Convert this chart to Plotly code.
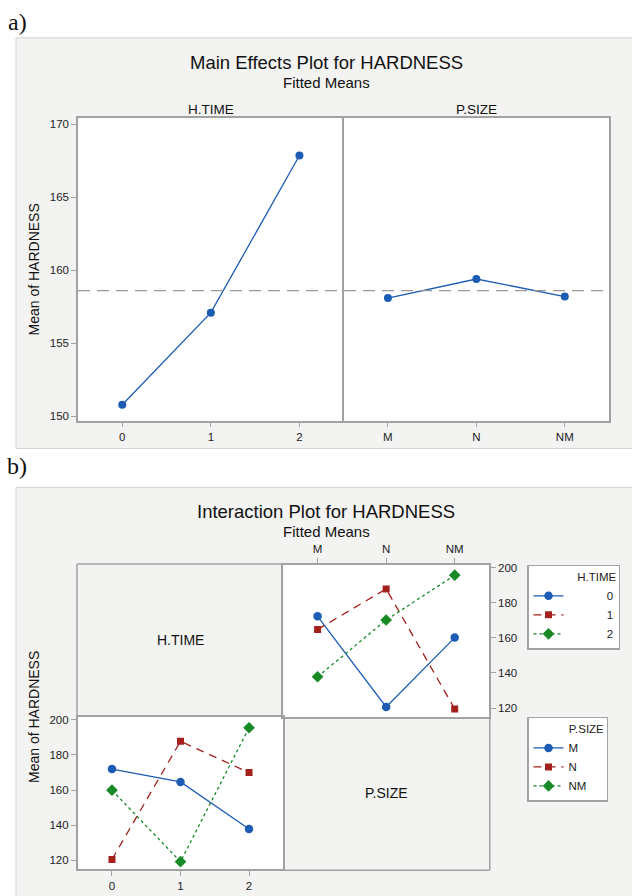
import plotly.graph_objects as go

# ---------------- data ----------------
HTIME_LEVELS = ["0", "1", "2"]
PSIZE_LEVELS = ["M", "N", "NM"]
LEVEL_POS = [0, 1, 2]

# Main effects (fitted means)
HTIME_MEANS = [150.8, 157.1, 167.85]
PSIZE_MEANS = [158.1, 159.4, 158.2]
GRAND_MEAN = 158.6

# Interaction: lines by H.TIME across P.SIZE (top-right cell)
HT0_BY_PSIZE = [172.2, 120.6, 160.1]
HT1_BY_PSIZE = [164.7, 187.8, 119.5]
HT2_BY_PSIZE = [137.8, 170.1, 195.6]

# Interaction: lines by P.SIZE across H.TIME (bottom-left cell)
PM_BY_HTIME = [171.9, 164.6, 137.9]
PN_BY_HTIME = [120.6, 187.7, 169.9]
PNM_BY_HTIME = [159.9, 119.3, 195.4]

MAIN_Y_TICKS = [150, 155, 160, 165, 170]
INT_Y_TICKS = [120, 140, 160, 180, 200]

# ---------------- layout helpers ----------------
W, H = 632, 896


def px(x):
    return x / W


def py(y):
    return 1 - y / H


FONT = "Liberation Sans, Arial, Helvetica, sans-serif"
AX = "#a2a2a2"
TXT = "#222222"
PANEL = "#f3f3f2"
BLUE = "#1d5cb4"
RED = "#a3201d"
GREEN = "#178a26"
NB = "\u00a0"

fig = go.Figure()

# ---- main effects traces ----
fig.add_trace(go.Scatter(x=LEVEL_POS, y=HTIME_MEANS, xaxis="x", yaxis="y",
                         mode="lines+markers", showlegend=False,
                         line=dict(color=BLUE, width=1.3),
                         marker=dict(color=BLUE, size=8, symbol="circle")))
fig.add_trace(go.Scatter(x=LEVEL_POS, y=PSIZE_MEANS, xaxis="x2", yaxis="y2",
                         mode="lines+markers", showlegend=False,
                         line=dict(color=BLUE, width=1.3),
                         marker=dict(color=BLUE, size=8, symbol="circle")))

# ---- interaction traces ----
styles = [
    (BLUE, "solid", "circle", 8.5),
    (RED, "8px,6px", "square", 7),
    (GREEN, "3px,3px", "diamond", 9),
]
for name, vals, (c, d, s, ms) in zip(HTIME_LEVELS,
                                     [HT0_BY_PSIZE, HT1_BY_PSIZE, HT2_BY_PSIZE],
                                     styles):
    fig.add_trace(go.Scatter(x=LEVEL_POS, y=vals, xaxis="x4", yaxis="y4",
                             name=NB * 12 + name, legend="legend",
                             mode="lines+markers",
                             line=dict(color=c, width=1.3, dash=d),
                             marker=dict(color=c, size=ms, symbol=s)))
for name, vals, (c, d, s, ms) in zip(PSIZE_LEVELS,
                                     [PM_BY_HTIME, PN_BY_HTIME, PNM_BY_HTIME],
                                     styles):
    fig.add_trace(go.Scatter(x=LEVEL_POS, y=vals, xaxis="x3", yaxis="y3",
                             name=name, legend="legend2",
                             mode="lines+markers",
                             line=dict(color=c, width=1.3, dash=d),
                             marker=dict(color=c, size=ms, symbol=s)))

axis_common = dict(showgrid=False, zeroline=False, showline=True, mirror=True,
                   linecolor=AX, linewidth=1.5, ticks="outside", ticklen=5,
                   tickwidth=1.2, tickcolor=AX,
                   tickfont=dict(family=FONT, size=11.5, color=TXT),
                   fixedrange=True)


def ax(**kw):
    d = dict(axis_common)
    d.update(kw)
    return d


legend_font = dict(family=FONT, size=11.5, color=TXT)

fig.update_layout(
    width=W, height=H,
    margin=dict(l=0, r=0, t=0, b=0),
    paper_bgcolor="white",
    plot_bgcolor="rgba(0,0,0,0)",
    font=dict(family=FONT, color=TXT),
    # main effects
    xaxis=ax(domain=[px(78), px(343.7)], anchor="y", range=[-0.5, 2.5],
             tickvals=LEVEL_POS, ticktext=HTIME_LEVELS),
    xaxis2=ax(domain=[px(343.7), px(609)], anchor="y2", range=[-0.5, 2.5],
              tickvals=LEVEL_POS, ticktext=PSIZE_LEVELS),
    yaxis=ax(domain=[py(420), py(116)], anchor="x", range=[149.71, 170.39],
             tickvals=MAIN_Y_TICKS, mirror=False),
    yaxis2=ax(domain=[py(420), py(116)], anchor="x2", matches="y",
              showticklabels=False, ticks=""),
    # interaction bottom-left
    xaxis3=ax(domain=[px(77.7), px(283.3)], anchor="y3", range=[-0.5, 2.5],
              tickvals=LEVEL_POS, ticktext=HTIME_LEVELS),
    yaxis3=ax(domain=[py(871.3), py(718)], anchor="x3", range=[114.9, 201.5],
              tickvals=INT_Y_TICKS),
    # interaction top-right
    xaxis4=ax(domain=[px(283.3), px(489)], anchor="y4", range=[-0.5, 2.5],
              side="top", tickvals=LEVEL_POS, ticktext=PSIZE_LEVELS),
    yaxis4=ax(domain=[py(718), py(565)], anchor="x4", range=[114.9, 201.5],
              side="right", tickvals=INT_Y_TICKS),
    legend=dict(x=px(527), y=py(565), xanchor="left", yanchor="top",
                bgcolor="white", bordercolor=AX, borderwidth=1.5,
                font=legend_font,
                title=dict(text="H.TIME", side="top right", font=legend_font),
                tracegroupgap=0, itemwidth=30),
    legend2=dict(x=px(527), y=py(718), xanchor="left", yanchor="top",
                 bgcolor="white", bordercolor=AX, borderwidth=1.5,
                 font=legend_font,
                 title=dict(text=NB * 12 + "P.SIZE", side="top", font=legend_font),
                 tracegroupgap=0, itemwidth=30),
)

shapes = []
# background panels
shapes.append(dict(type="rect", xref="paper", yref="paper", layer="below",
                   x0=px(16), x1=px(645), y0=py(448), y1=py(35),
                   fillcolor=PANEL, line=dict(color="#d4d4d4", width=1)))
shapes.append(dict(type="rect", xref="paper", yref="paper", layer="below",
                   x0=px(16), x1=px(645), y0=py(910), y1=py(487),
                   fillcolor=PANEL, line=dict(color="#d4d4d4", width=1)))
# white plotting areas
for (x0, x1, y0, y1) in [(78, 609, 116, 420), (77.7, 283.3, 718, 871.3),
                         (283.3, 489, 565, 718)]:
    shapes.append(dict(type="rect", xref="paper", yref="paper", layer="below",
                       x0=px(x0), x1=px(x1), y0=py(y1), y1=py(y0),
                       fillcolor="white", line=dict(width=0)))
# outer edges of the two label cells (inner edges come from the axes)
for (x0, y0, x1, y1) in [(76.95, 564.25, 283.3, 564.25),   # top-left cell: top
                         (76.95, 564.25, 76.95, 718),      # top-left cell: left
                         (489.75, 718, 489.75, 872.05),     # bottom-right: right
                         (283.3, 872.05, 489.75, 872.05)]:  # bottom-right: bottom
    shapes.append(dict(type="line", xref="paper", yref="paper", layer="below",
                       x0=px(x0), x1=px(x1), y0=py(y0), y1=py(y1),
                       line=dict(color=AX, width=1.5)))
# grand mean reference line
shapes.append(dict(type="line", xref="paper", yref="y", layer="above",
                   x0=px(78), x1=px(609), y0=GRAND_MEAN, y1=GRAND_MEAN,
                   line=dict(color="#999999", width=1.3, dash="12px,7px")))
fig.update_layout(shapes=shapes)

ann = []


def label(text, x, y, size, angle=0, family=FONT):
    ann.append(dict(text=text, x=px(x), y=py(y), xref="paper", yref="paper",
                    showarrow=False, xanchor="center", yanchor="middle",
                    textangle=angle, font=dict(family=family, size=size, color="#111")))


label("a)", 17, 19, 24, family="Liberation Serif, Times New Roman, serif")
label("b)", 17, 466, 24, family="Liberation Serif, Times New Roman, serif")
label("Main Effects Plot for HARDNESS", 326, 60, 18.5)
label("Fitted Means", 326, 80, 15)
label("H.TIME", 211, 107, 13.5)
label("P.SIZE", 476, 107, 13.5)
label("Mean of HARDNESS", 34, 268, 14, angle=-90)
label("Interaction Plot for HARDNESS", 326, 511, 18.5)
label("Fitted Means", 326, 531, 15)
label("H.TIME", 180.5, 641, 14)
label("P.SIZE", 386, 794.5, 14)
label("Mean of HARDNESS", 34, 718, 14, angle=-90)
fig.update_layout(annotations=ann)

fig.write_html("out.html")
